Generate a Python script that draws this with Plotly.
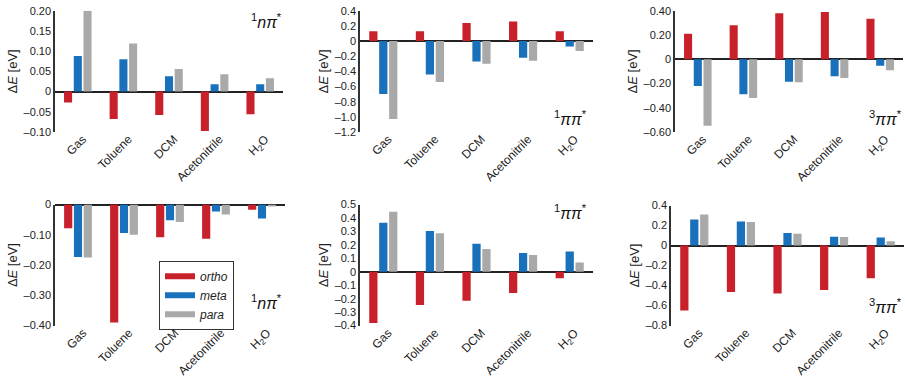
import plotly.graph_objects as go

W, H = 905, 381

categories = ["Gas", "Toluene", "DCM", "Acetonitrile", "H<sub>2</sub>O"]
series_names = ["ortho", "meta", "para"]
colors = ["#c8212b", "#1a71bb", "#a9a9a9"]

# panel 1: 1nπ* (top-left)
p1_ortho = [-0.027, -0.068, -0.058, -0.098, -0.056]
p1_meta = [0.088, 0.080, 0.038, 0.018, 0.018]
p1_para = [0.200, 0.119, 0.056, 0.043, 0.033]
# panel 2: 1ππ* (top-middle)
p2_ortho = [0.13, 0.13, 0.24, 0.26, 0.13]
p2_meta = [-0.70, -0.44, -0.27, -0.22, -0.07]
p2_para = [-1.03, -0.54, -0.30, -0.26, -0.13]
# panel 3: 3ππ* (top-right)
p3_ortho = [0.21, 0.28, 0.38, 0.39, 0.335]
p3_meta = [-0.22, -0.29, -0.185, -0.14, -0.054]
p3_para = [-0.55, -0.32, -0.19, -0.155, -0.09]
# panel 4: 1nπ* (bottom-left)
p4_ortho = [-0.078, -0.39, -0.108, -0.113, -0.017]
p4_meta = [-0.173, -0.094, -0.052, -0.023, -0.046]
p4_para = [-0.175, -0.100, -0.058, -0.033, -0.004]
# panel 5: 1ππ* (bottom-middle)
p5_ortho = [-0.38, -0.246, -0.215, -0.157, -0.048]
p5_meta = [0.365, 0.304, 0.208, 0.14, 0.15]
p5_para = [0.447, 0.287, 0.17, 0.125, 0.07]
# panel 6: 3ππ* (bottom-right)
p6_ortho = [-0.65, -0.465, -0.48, -0.445, -0.326]
p6_meta = [0.26, 0.24, 0.126, 0.087, 0.08]
p6_para = [0.31, 0.235, 0.118, 0.085, 0.042]

p1_ticks = [0.20, 0.15, 0.10, 0.05, 0, -0.05, -0.10]
p1_ticktext = ["0.20", "0.15", "0.10", "0.05", "0", "\u20130.05", "\u20130.10"]
p2_ticks = [0.4, 0.2, 0, -0.2, -0.4, -0.6, -0.8, -1.0, -1.2]
p2_ticktext = ["0.4", "0.2", "0", "\u20130.2", "\u20130.4", "\u20130.6", "\u20130.8", "\u20131.0", "\u20131.2"]
p3_ticks = [0.40, 0.20, 0, -0.20, -0.40, -0.60]
p3_ticktext = ["0.40", "0.20", "0", "\u20130.20", "\u20130.40", "\u20130.60"]
p4_ticks = [0, -0.10, -0.20, -0.30, -0.40]
p4_ticktext = ["0", "\u20130.10", "\u20130.20", "\u20130.30", "\u20130.40"]
p5_ticks = [0.5, 0.4, 0.3, 0.2, 0.1, 0, -0.1, -0.2, -0.3, -0.4]
p5_ticktext = ["0.5", "0.4", "0.3", "0.2", "0.1", "0", "\u20130.1", "\u20130.2", "\u20130.3", "\u20130.4"]
p6_ticks = [0.4, 0.2, 0, -0.2, -0.4, -0.6, -0.8]
p6_ticktext = ["0.4", "0.2", "0", "\u20130.2", "\u20130.4", "\u20130.6", "\u20130.8"]

labels = [
    "<sup>1</sup><i>n\u03c0</i><sup>*</sup>",
    "<sup>1</sup><i>\u03c0\u03c0</i><sup>*</sup>",
    "<sup>3</sup><i>\u03c0\u03c0</i><sup>*</sup>",
    "<sup>1</sup><i>n\u03c0</i><sup>*</sup>",
    "<sup>1</sup><i>\u03c0\u03c0</i><sup>*</sup>",
    "<sup>3</sup><i>\u03c0\u03c0</i><sup>*</sup>",
]

panels = [
    dict(data=[p1_ortho, p1_meta, p1_para], ticks=p1_ticks, text=p1_ticktext, rng=[-0.10, 0.20],
         px=(55, 283), py=(5, 130), lab=(284, 16)),
    dict(data=[p2_ortho, p2_meta, p2_para], ticks=p2_ticks, text=p2_ticktext, rng=[-1.2, 0.4],
         px=(360, 593), py=(5, 130), lab=(589, 116)),
    dict(data=[p3_ortho, p3_meta, p3_para], ticks=p3_ticks, text=p3_ticktext, rng=[-0.60, 0.40],
         px=(675, 903), py=(5, 130), lab=(904, 116)),
    dict(data=[p4_ortho, p4_meta, p4_para], ticks=p4_ticks, text=p4_ticktext, rng=[-0.40, 0],
         px=(55, 285), py=(205, 330), lab=(284, 306)),
    dict(data=[p5_ortho, p5_meta, p5_para], ticks=p5_ticks, text=p5_ticktext, rng=[-0.4, 0.5],
         px=(360, 593), py=(205, 330), lab=(589, 213)),
    dict(data=[p6_ortho, p6_meta, p6_para], ticks=p6_ticks, text=p6_ticktext, rng=[-0.8, 0.4],
         px=(671, 904), py=(206, 330), lab=(904, 310)),
]

FONT = "Liberation Sans, Arial, sans-serif"
fig = go.Figure()
annotations = []
layout = {}
for i, p in enumerate(panels):
    n = i + 1
    xa = "x" if n == 1 else f"x{n}"
    ya = "y" if n == 1 else f"y{n}"
    for s, (name, col) in enumerate(zip(series_names, colors)):
        fig.add_trace(go.Bar(x=categories, y=p["data"][s], name=name, marker_color=col,
                             marker_line_width=0, xaxis=xa, yaxis=ya, showlegend=False,
                             offsetgroup=str(s)))
    xkey = "xaxis" if n == 1 else f"xaxis{n}"
    ykey = "yaxis" if n == 1 else f"yaxis{n}"
    layout[xkey] = dict(domain=[p["px"][0] / W, p["px"][1] / W], anchor=ya,
                        showline=False, showgrid=False, zeroline=False, ticks="",
                        tickangle=-45, tickfont=dict(size=12, color="#222", family=FONT),
                        ticklabelstandoff=-3, ticklabelshift=5,
                        range=[-0.5, 4.5], fixedrange=True)
    layout[ykey] = dict(domain=[1 - p["py"][1] / H, 1 - p["py"][0] / H], anchor=xa,
                        range=p["rng"], tickvals=p["ticks"], ticktext=p["text"],
                        showline=True, linecolor="#333", linewidth=1.5, showgrid=False,
                        zeroline=True, zerolinecolor="#222", zerolinewidth=1.5, ticks="",
                        tickfont=dict(size=11, color="#222", family=FONT),
                        title=dict(text="\u0394<i>E</i> [eV]", font=dict(size=13, color="#222", family=FONT),
                                   standoff=3))
    annotations.append(dict(text=labels[i], xref="paper", yref="paper",
                            x=p["lab"][0] / W, y=1 - p["lab"][1] / H, xanchor="right",
                            yanchor="middle", showarrow=False,
                            font=dict(size=16, color="#111", family=FONT)))

# legend entries (drawn as thick line swatches, like the reference)
for name, col in zip(series_names, colors):
    fig.add_trace(go.Scatter(x=[None], y=[None], mode="lines", name=f"<i>{name}</i>",
                             line=dict(color=col, width=6), xaxis="x4", yaxis="y4"))

fig.update_layout(
    width=W, height=H, margin=dict(l=0, r=0, t=0, b=0),
    paper_bgcolor="white", plot_bgcolor="white",
    barmode="group", bargap=0.36, bargroupgap=0.17,
    font=dict(family=FONT, color="#222"),
    annotations=annotations,
    legend=dict(x=159 / W, y=1 - 263 / H, xanchor="left", yanchor="top",
                bordercolor="#333", borderwidth=1, bgcolor="white",
                font=dict(size=12, family=FONT, color="#222"),
                itemwidth=30, tracegroupgap=0),
    **layout,
)
fig.write_html("out.html", config={"displayModeBar": False},
               post_script="document.body.style.margin='0';document.body.style.overflow='hidden';")
